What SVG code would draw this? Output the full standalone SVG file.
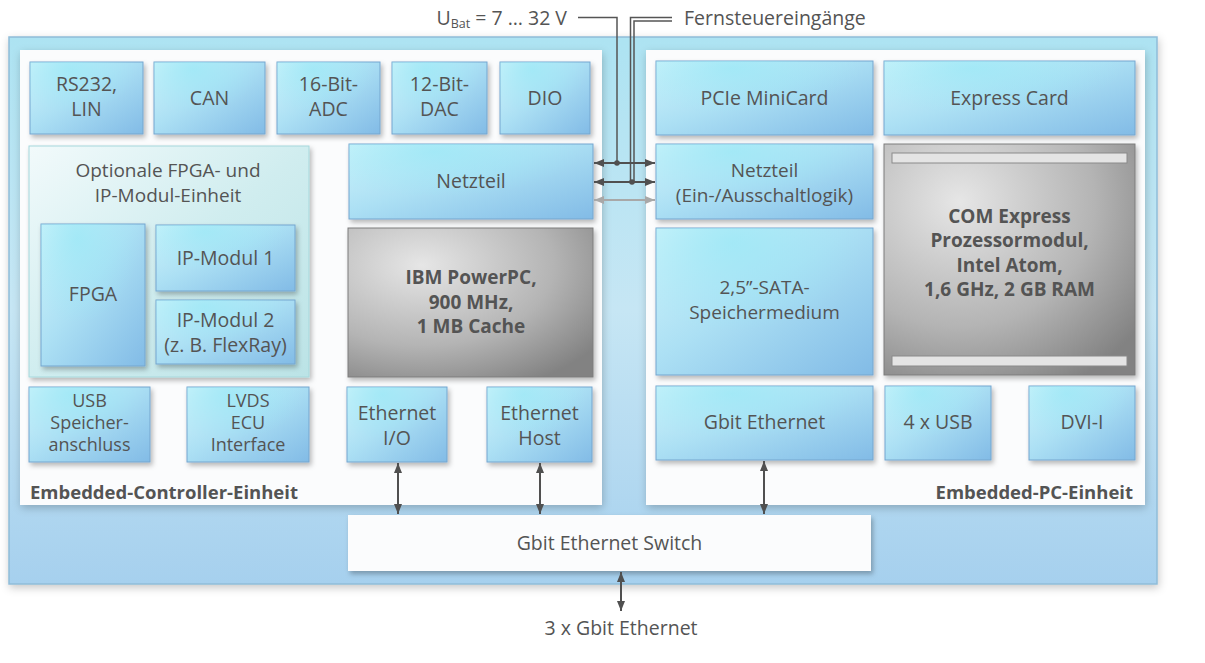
<svg xmlns="http://www.w3.org/2000/svg" width="1205" height="663" viewBox="0 0 1205 663">
<defs>
<linearGradient id="gFrame" x1="0" y1="0" x2="0" y2="1">
<stop offset="0" stop-color="#ade3f2"/>
<stop offset="0.5" stop-color="#c6e6f4"/>
<stop offset="1" stop-color="#a6d0ee"/>
</linearGradient>
<linearGradient id="gBlue" x1="0" y1="0" x2="1" y2="1">
<stop offset="0" stop-color="#d0f4fb"/>
<stop offset="0.45" stop-color="#ace0f4"/>
<stop offset="1" stop-color="#82bbe6"/>
</linearGradient>
<radialGradient id="gBlueHi" cx="0.35" cy="0.1" r="0.6">
<stop offset="0" stop-color="#98e8f6" stop-opacity="0.7"/>
<stop offset="1" stop-color="#98e8f6" stop-opacity="0"/>
</radialGradient>
<radialGradient id="gGray" cx="0.3" cy="0.25" r="0.9">
<stop offset="0" stop-color="#e6e6e6"/>
<stop offset="0.6" stop-color="#b4b4b4"/>
<stop offset="1" stop-color="#828282"/>
</radialGradient>
<linearGradient id="gTeal" x1="0" y1="0" x2="1" y2="1">
<stop offset="0" stop-color="#f2fafb"/>
<stop offset="0.5" stop-color="#d0edef"/>
<stop offset="1" stop-color="#bbe3e6"/>
</linearGradient>
<filter id="sh" x="-10%" y="-10%" width="130%" height="140%">
<feDropShadow dx="2" dy="3" stdDeviation="2.5" flood-color="#000" flood-opacity="0.28"/>
</filter>
<filter id="shL" x="-5%" y="-5%" width="110%" height="115%">
<feDropShadow dx="1" dy="3" stdDeviation="4" flood-color="#000" flood-opacity="0.22"/>
</filter>
<marker id="ah" viewBox="0 0 10 10" refX="10" refY="5" markerWidth="10" markerHeight="10" markerUnits="userSpaceOnUse" orient="auto-start-reverse">
<path d="M0,1 L10,5 L0,9 Z" fill="#505050"/>
</marker>
<marker id="ahG" viewBox="0 0 10 10" refX="10" refY="5" markerWidth="10" markerHeight="10" markerUnits="userSpaceOnUse" orient="auto-start-reverse">
<path d="M0,1 L10,5 L0,9 Z" fill="#a8a8a8"/>
</marker>
</defs>
<style>
text{font-family:"Open Sans","Noto Sans","Liberation Sans",sans-serif;font-size:19.5px;fill:#545454;text-anchor:middle}
.b{font-weight:bold;font-size:19px}
.pl{font-weight:bold;font-size:18.5px}
.s3{font-size:18px}
.s2{font-size:19px}
.blue{fill:url(#gBlue);stroke:#74a6cf;stroke-width:1}
.hi{fill:url(#gBlueHi);stroke:none}
.gray{fill:url(#gGray);stroke:#7c7c7c;stroke-width:1}
.panel{fill:#fbfcfd}
.ln{stroke:#505050;stroke-width:2;fill:none}
.ln2{stroke:#555;stroke-width:1.5;fill:none}
</style>

<g id="frame">
<rect x="9" y="37" width="1148" height="547" fill="url(#gFrame)" stroke="#8fbcd8" stroke-width="1.5" filter="url(#shL)"/>
</g>
<g id="panel-left">
<rect x="20" y="50" width="582" height="455" class="panel" filter="url(#shL)"/>
<text x="30" y="499" class="pl" style="text-anchor:start">Embedded-Controller-Einheit</text>
</g>
<g id="panel-right">
<rect x="646" y="50" width="499" height="455" class="panel" filter="url(#shL)"/>
<text x="1133" y="499" class="pl" style="text-anchor:end">Embedded-PC-Einheit</text>
</g>

<g id="rs232"><rect x="30" y="62" width="113" height="72" class="blue" filter="url(#sh)"/><rect x="30" y="62" width="113" height="72" class="hi"/><text x="86.5" y="91">RS232,</text><text x="86.5" y="116">LIN</text></g>
<g id="can"><rect x="154" y="62" width="111" height="72" class="blue" filter="url(#sh)"/><rect x="154" y="62" width="111" height="72" class="hi"/><text x="209.5" y="105">CAN</text></g>
<g id="adc"><rect x="277" y="62" width="103" height="72" class="blue" filter="url(#sh)"/><rect x="277" y="62" width="103" height="72" class="hi"/><text x="328.5" y="91">16-Bit-</text><text x="328.5" y="116">ADC</text></g>
<g id="dac"><rect x="392" y="62" width="95" height="72" class="blue" filter="url(#sh)"/><rect x="392" y="62" width="95" height="72" class="hi"/><text x="439.5" y="91">12-Bit-</text><text x="439.5" y="116">DAC</text></g>
<g id="dio"><rect x="500" y="62" width="90" height="72" class="blue" filter="url(#sh)"/><rect x="500" y="62" width="90" height="72" class="hi"/><text x="545" y="105">DIO</text></g>

<g id="fpga-unit">
<rect x="29" y="146" width="280" height="231" fill="url(#gTeal)" stroke="#a6d8dc" stroke-width="1" filter="url(#sh)"/>
<text x="168" y="177" class="s2">Optionale FPGA- und</text>
<text x="168" y="201.5" class="s2">IP-Modul-Einheit</text>
</g>
<g id="fpga"><rect x="41" y="224" width="104" height="142" class="blue" filter="url(#sh)"/><rect x="41" y="224" width="104" height="142" class="hi"/><text x="93" y="301">FPGA</text></g>
<g id="ip1"><rect x="156" y="225" width="139" height="66" class="blue" filter="url(#sh)"/><rect x="156" y="225" width="139" height="66" class="hi"/><text x="225.5" y="265">IP-Modul 1</text></g>
<g id="ip2"><rect x="156" y="300" width="139" height="64" class="blue" filter="url(#sh)"/><rect x="156" y="300" width="139" height="64" class="hi"/><text x="225.5" y="327">IP-Modul 2</text><text x="225.5" y="352">(z. B. FlexRay)</text></g>

<g id="netzteil-l"><rect x="349" y="144" width="244" height="75" class="blue" filter="url(#sh)"/><rect x="349" y="144" width="244" height="75" class="hi"/><text x="471" y="188">Netzteil</text></g>
<g id="powerpc"><rect x="348" y="228" width="245" height="149" class="gray" filter="url(#sh)"/><text x="471" y="284" class="b">IBM PowerPC,</text><text x="471" y="308.5" class="b">900 MHz,</text><text x="471" y="333" class="b">1 MB Cache</text></g>

<g id="usb-l"><rect x="29" y="387" width="121" height="75" class="blue" filter="url(#sh)"/><rect x="29" y="387" width="121" height="75" class="hi"/><text x="89.5" y="407" class="s3">USB</text><text x="89.5" y="429" class="s3">Speicher-</text><text x="89.5" y="451" class="s3">anschluss</text></g>
<g id="lvds"><rect x="187" y="387" width="122" height="75" class="blue" filter="url(#sh)"/><rect x="187" y="387" width="122" height="75" class="hi"/><text x="248" y="407" class="s3">LVDS</text><text x="248" y="429" class="s3">ECU</text><text x="248" y="451" class="s3">Interface</text></g>
<g id="eth-io"><rect x="347" y="387" width="100" height="75" class="blue" filter="url(#sh)"/><rect x="347" y="387" width="100" height="75" class="hi"/><text x="397" y="420">Ethernet</text><text x="397" y="445">I/O</text></g>
<g id="eth-host"><rect x="487" y="387" width="105" height="75" class="blue" filter="url(#sh)"/><rect x="487" y="387" width="105" height="75" class="hi"/><text x="539.5" y="420">Ethernet</text><text x="539.5" y="445">Host</text></g>

<g id="pcie"><rect x="656" y="61" width="217" height="74" class="blue" filter="url(#sh)"/><rect x="656" y="61" width="217" height="74" class="hi"/><text x="764.5" y="105">PCIe MiniCard</text></g>
<g id="expresscard"><rect x="884" y="61" width="251" height="74" class="blue" filter="url(#sh)"/><rect x="884" y="61" width="251" height="74" class="hi"/><text x="1009.5" y="105">Express Card</text></g>
<g id="netzteil-r"><rect x="656" y="144" width="217" height="75" class="blue" filter="url(#sh)"/><rect x="656" y="144" width="217" height="75" class="hi"/><text x="764.5" y="177" class="s2">Netzteil</text><text x="764.5" y="201.5" class="s2">(Ein-/Ausschaltlogik)</text></g>
<g id="sata"><rect x="656" y="228" width="217" height="147" class="blue" filter="url(#sh)"/><rect x="656" y="228" width="217" height="147" class="hi"/><text x="764.5" y="294" class="s2">2,5’’-SATA-</text><text x="764.5" y="318.5" class="s2">Speichermedium</text></g>
<g id="com"><rect x="884" y="144" width="251" height="231" class="gray" filter="url(#sh)"/>
<rect x="892" y="153" width="235" height="10" fill="#e4e4e4" stroke="#8a8a8a" stroke-width="1"/>
<rect x="892" y="356" width="235" height="10" fill="#e4e4e4" stroke="#8a8a8a" stroke-width="1"/>
<text x="1009.5" y="222.5" class="b">COM Express</text><text x="1009.5" y="247" class="b">Prozessormodul,</text><text x="1009.5" y="271.5" class="b">Intel Atom,</text><text x="1009.5" y="296" class="b">1,6 GHz, 2 GB RAM</text></g>
<g id="gbit"><rect x="656" y="386" width="217" height="74" class="blue" filter="url(#sh)"/><rect x="656" y="386" width="217" height="74" class="hi"/><text x="764.5" y="429">Gbit Ethernet</text></g>
<g id="usb4"><rect x="885" y="386" width="106" height="74" class="blue" filter="url(#sh)"/><rect x="885" y="386" width="106" height="74" class="hi"/><text x="938" y="429">4 x USB</text></g>
<g id="dvi"><rect x="1029" y="386" width="106" height="74" class="blue" filter="url(#sh)"/><rect x="1029" y="386" width="106" height="74" class="hi"/><text x="1082" y="429">DVI-I</text></g>

<g id="switch"><rect x="348" y="515" width="523" height="56" fill="#fbfcfd" filter="url(#sh)"/><text x="609.5" y="550">Gbit Ethernet Switch</text></g>

<g id="labels">
<text x="567" y="25" style="text-anchor:end">U<tspan font-size="12.5" dy="3">Bat</tspan><tspan dy="-3"> = 7 … 32 V</tspan></text>
<text x="684" y="25" style="text-anchor:start">Fernsteuereingänge</text>
<text x="621" y="635">3 x Gbit Ethernet</text>
</g>

<g id="connectors">
<path class="ln2" d="M578,17.5 H617 V163"/>
<path class="ln2" d="M672,17.5 H630.5 V182"/>
<path class="ln2" d="M672,21 H634 V182"/>
<line class="ln" x1="594" y1="163" x2="655" y2="163" marker-start="url(#ah)" marker-end="url(#ah)"/>
<circle cx="617" cy="163" r="2.8" fill="#505050"/>
<line class="ln" x1="594" y1="182" x2="655" y2="182" marker-start="url(#ah)" marker-end="url(#ah)"/>
<circle cx="632" cy="182" r="2.8" fill="#505050"/>
<line x1="594" y1="200" x2="655" y2="200" stroke="#a8a8a8" stroke-width="2" marker-start="url(#ahG)" marker-end="url(#ahG)"/>
<line class="ln" x1="398" y1="463" x2="398" y2="514" marker-start="url(#ah)" marker-end="url(#ah)"/>
<line class="ln" x1="540" y1="463" x2="540" y2="514" marker-start="url(#ah)" marker-end="url(#ah)"/>
<line class="ln" x1="764" y1="461" x2="764" y2="514" marker-start="url(#ah)" marker-end="url(#ah)"/>
<line class="ln" x1="621" y1="572" x2="621" y2="611" marker-start="url(#ah)" marker-end="url(#ah)"/>
</g>
</svg>
